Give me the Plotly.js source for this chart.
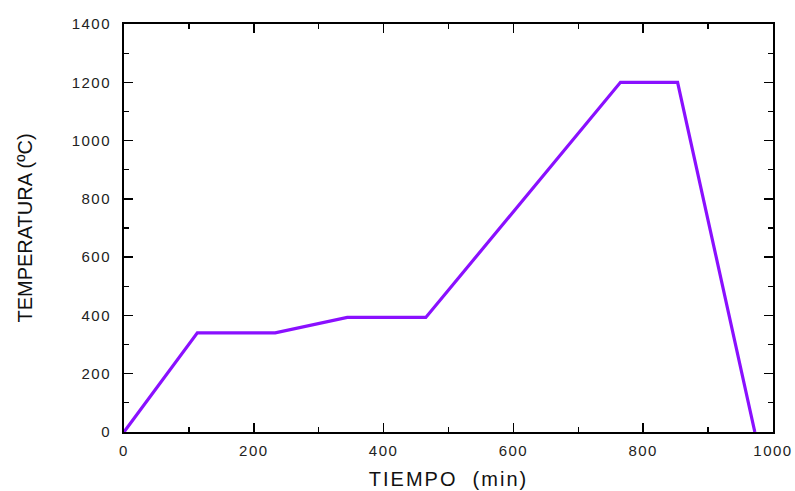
<!DOCTYPE html>
<html>
<head>
<meta charset="utf-8">
<script src="https://cdn.plot.ly/plotly-3.0.1.min.js"></script>
<style>
html,body{margin:0;padding:0;background:#fff;}
#chart{width:795px;height:491px;}
.xtick text, .ytick text { letter-spacing: 1.5px; }
text.xtitle { letter-spacing: 2px; }
</style>
</head>
<body>
<div id="chart"></div>
<script>
const tiempo = [0, 113, 233, 344, 465, 765, 853, 972];
const temperatura = [0, 340, 340, 393, 393, 1200, 1200, 0];
const xTickVals = [0, 200, 400, 600, 800, 1000];
const yTickVals = [0, 200, 400, 600, 800, 1000, 1200, 1400];
const xTitle = 'TIEMPO  (min)';
const yTitle = 'TEMPERATURA (ºC)';

const font = 'Liberation Sans, Arial, sans-serif';
const axisCommon = {
  showgrid: false, zeroline: false, showline: true, linecolor: '#000', linewidth: 2,
  mirror: 'ticks', ticks: 'inside', ticklen: 9, tickwidth: 1.5, tickcolor: '#000',
  tickfont: {family: font, size: 15, color: '#222'},
  minor: {ticks: 'inside', ticklen: 5, tickwidth: 1.2, tickcolor: '#000', tick0: 0, dtick: 100}
};
Plotly.newPlot('chart', [{
  x: tiempo, y: temperatura, type: 'scatter', mode: 'lines',
  line: {color: '#8a10ff', width: 3.2}
}], {
  width: 795, height: 491,
  margin: {l: 124, r: 22, t: 24, b: 59},
  paper_bgcolor: '#fff', plot_bgcolor: '#fff',
  showlegend: false,
  xaxis: Object.assign({}, axisCommon, {
    range: [0, 1000], tickvals: xTickVals, ticklabelstandoff: 4,
    title: {text: xTitle, font: {family: font, size: 20, color: '#111'}, standoff: 14}
  }),
  yaxis: Object.assign({}, axisCommon, {
    range: [0, 1400], tickvals: yTickVals, ticklabelstandoff: 8,
    title: {text: yTitle, font: {family: font, size: 20, color: '#111'}, standoff: 34}
  })
}, {displayModeBar: false, staticPlot: true});
</script>
</body>
</html>
